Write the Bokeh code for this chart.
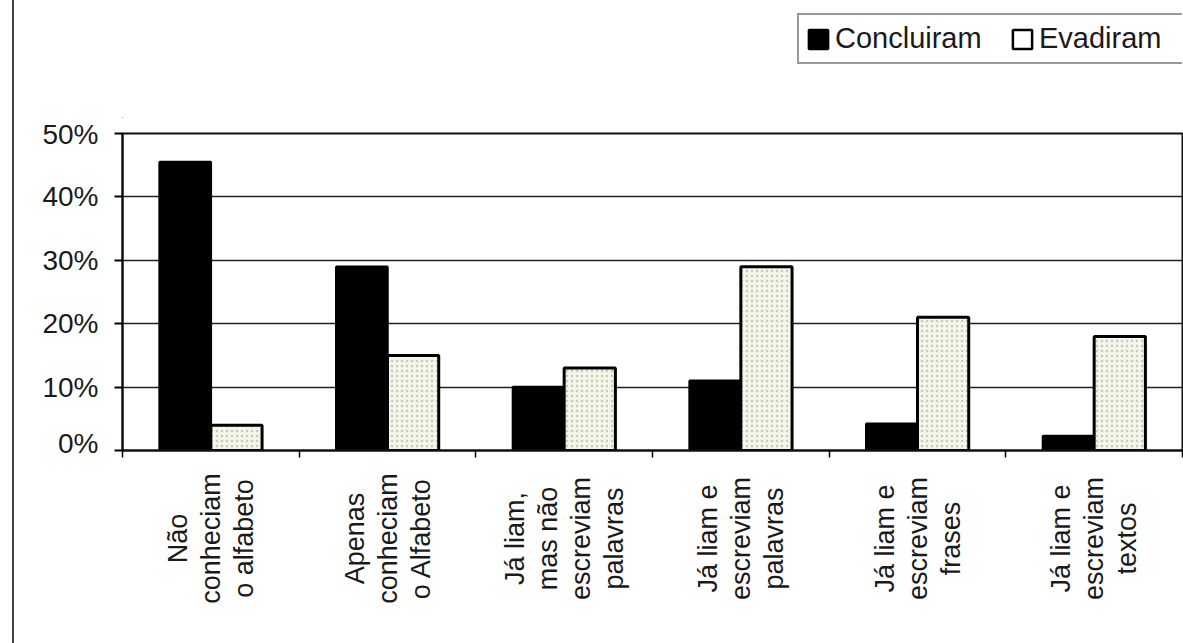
import numpy as np
from math import pi
from bokeh.plotting import figure
from bokeh.layouts import column
from bokeh.models import (Range1d, FixedTicker, NumeralTickFormatter,
                          Legend, LegendItem, ColumnDataSource)
from bokeh.transform import dodge
from bokeh.core.properties import value
from bokeh.embed import file_html
from bokeh.resources import INLINE

# ---- data ----
categories = [
    "Não\nconheciam\no alfabeto",
    "Apenas\nconheciam\no Alfabeto",
    "Já liam,\nmas não\nescreviam\npalavras",
    "Já liam e\nescreviam\npalavras",
    "Já liam e\nescreviam\nfrases",
    "Já liam e\nescreviam\ntextos",
]
concluiram = [0.455, 0.29, 0.10, 0.11, 0.042, 0.023]
evadiram = [0.04, 0.15, 0.13, 0.29, 0.21, 0.18]
series_names = ["Concluiram", "Evadiram"]
y_ticks = [0.0, 0.1, 0.2, 0.3, 0.4, 0.5]

# ---- layout constants ----
W = 1169
TOP_H, MAIN_H, BOT_H = 118, 340, 185
BL, BR = 108, 1
FONT = "Liberation Sans"
TXT = "#1a1a1a"
n = len(categories)
centers = np.arange(n) + 0.5
bw = 0.29

black_style = dict(fill_color="black", line_color="black", line_width=2.5)
light_style = dict(fill_color="#f5f5ea", line_color="black", line_width=3,
                   hatch_pattern=".", hatch_color="#c9c9b9", hatch_scale=5,
                   hatch_weight=1)

src = ColumnDataSource(dict(x=centers, c=concluiram, e=evadiram))


def bare(fig):
    fig.outline_line_color = None
    fig.grid.grid_line_color = None
    fig.background_fill_color = "white"
    fig.border_fill_color = "white"
    return fig


# ---- top strip: legend ----
pt = bare(figure(width=W, height=TOP_H, output_backend="svg",
                 toolbar_location=None, x_range=Range1d(0, 1),
                 y_range=Range1d(0, 1), x_axis_location=None,
                 y_axis_location=None, min_border_left=BL,
                 min_border_right=BR, min_border_top=0, min_border_bottom=0))
# legend proxies (zero-height bars placed off the visible range)
proxy = ColumnDataSource(dict(x=[-5.0], top=[0.0]))
l1 = pt.vbar(x="x", top="top", width=0.1, source=proxy, **black_style)
l2 = pt.vbar(x="x", top="top", width=0.1, source=proxy,
             fill_color="white", line_color="black", line_width=2.5)
legend = Legend(items=[LegendItem(label=series_names[0], renderers=[l1]),
                       LegendItem(label=series_names[1], renderers=[l2])],
                orientation="horizontal", location=(675, 54))
legend.label_text_font = FONT
legend.label_text_font_size = "29px"
legend.label_text_color = TXT
legend.glyph_width = 24
legend.glyph_height = 24
legend.label_standoff = 5
legend.label_width = 150
legend.spacing = 25
legend.padding = 7
legend.margin = 0
legend.border_line_color = "#333"
legend.border_line_width = 2
legend.background_fill_color = "white"
pt.add_layout(legend, "center")

# ---- main chart ----
p = figure(width=W, height=MAIN_H, output_backend="svg", toolbar_location=None,
           x_range=Range1d(0, n), y_range=Range1d(0, 0.5),
           min_border_left=BL, min_border_right=BR, min_border_top=15,
           min_border_bottom=8)
p.background_fill_color = "white"
p.border_fill_color = "white"
p.outline_line_color = "#111"
p.outline_line_width = 2

p.vbar(x=dodge("x", -bw / 2), top="c", width=bw, source=src, **black_style)
p.vbar(x=dodge("x", bw / 2), top="e", width=bw, source=src, **light_style)

p.yaxis.ticker = FixedTicker(ticks=y_ticks)
p.yaxis.formatter = NumeralTickFormatter(format="0%")
p.yaxis.major_label_text_font = FONT
p.yaxis.major_label_text_font_size = "28px"
p.yaxis.major_label_text_color = TXT
p.yaxis.major_tick_out = 8
p.yaxis.major_tick_in = 0
p.yaxis.minor_tick_out = 0
p.yaxis.minor_tick_in = 0
p.yaxis.major_label_standoff = 16
p.yaxis.axis_line_color = "#111"
p.yaxis.axis_line_width = 2
p.yaxis.major_tick_line_width = 2

# x axis: only boundary ticks; category names are drawn in the strip below
p.xaxis.ticker = FixedTicker(ticks=list(range(n + 1)))
p.xaxis.major_label_overrides = {i: "" for i in range(n + 1)}
p.xaxis.major_label_standoff = 0
p.xaxis.major_tick_out = 7
p.xaxis.major_tick_in = 0
p.xaxis.minor_tick_out = 0
p.xaxis.minor_tick_in = 0
p.xaxis.axis_line_color = "#111"
p.xaxis.axis_line_width = 2
p.xaxis.major_tick_line_width = 1.5

p.xgrid.grid_line_color = None
p.ygrid.ticker = FixedTicker(ticks=y_ticks)
p.ygrid.grid_line_color = "#222"
p.ygrid.grid_line_width = 1.6

# ---- bottom strip: category labels ----
pb = bare(figure(width=W, height=BOT_H, output_backend="svg",
                 toolbar_location=None, x_range=p.x_range,
                 y_range=Range1d(BOT_H, 0), x_axis_location=None,
                 y_axis_location=None, min_border_left=BL,
                 min_border_right=BR, min_border_top=0, min_border_bottom=0))
lab_src = ColumnDataSource(dict(x=centers, y=[80] * n, text=categories))
pb.text(x="x", y="y", text="text", source=lab_src, angle=pi / 2,
        text_align="center", text_baseline="middle",
        text_font=value(FONT), text_font_size="27px",
        text_line_height=1.1, text_color=TXT)

layout = column(pt, p, pb, spacing=0)
layout.styles = {"margin-left": "12px", "border-left": "2px solid #444"}

open("out.html", "w").write(file_html(layout, INLINE))
